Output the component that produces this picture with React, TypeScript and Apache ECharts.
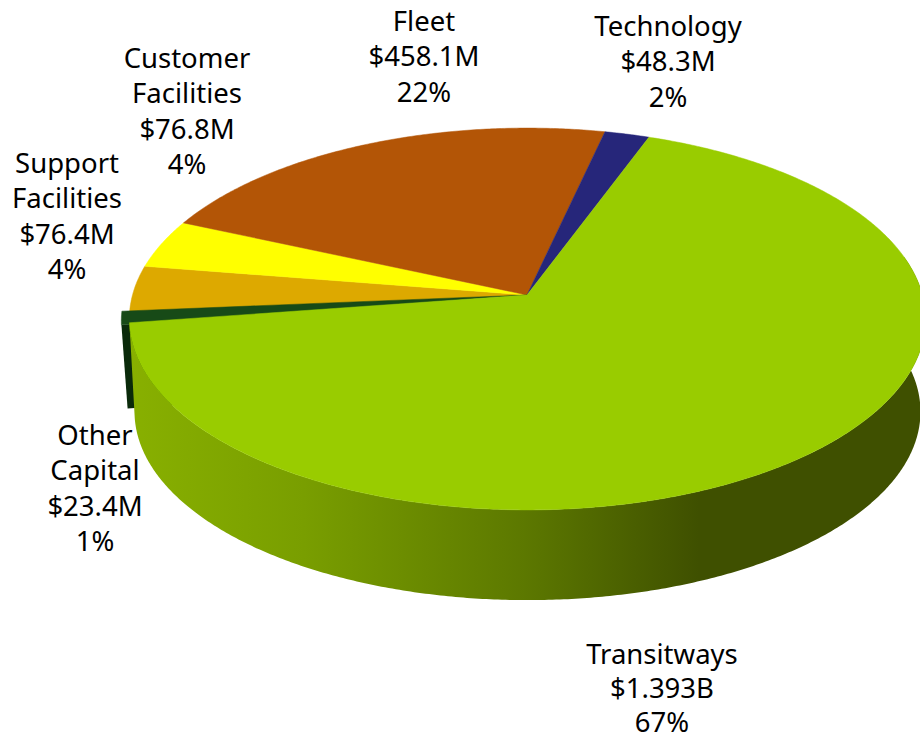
import React, { useEffect, useRef } from "react";
import * as echarts from "echarts";

const categories = ["Transitways", "Other\nCapital", "Support\nFacilities", "Customer\nFacilities", "Fleet", "Technology"];
const values = [1393, 23.4, 76.4, 76.8, 458.1, 48.3];
const amounts = ["$1.393B", "$23.4M", "$76.4M", "$76.8M", "$458.1M", "$48.3M"];
const percents = ["67%", "1%", "4%", "4%", "22%", "2%"];
const colors = ["#99CC00", "#174A17", "#DDA900", "#FFFF00", "#B35506", "#26267A"];
const labelAnchors = [[662, 653.5], [95, 434.5], [67, 162.5], [187, 57.5], [424, 20.5], [668, 25.5]];
const lineSteps = [34.2, 35.3, 35.3, 35.3, 35.3, 35.3];
// small angular corrections (degrees) at each slice's start, for the picture's non-true 3D projection
const startNudges = [0, 0, 0, 0, 1.5, 1];

const START_ANGLE = 20.1;
const FONT = "'Noto Sans', sans-serif";
const CX = 527.5, APEX_X = 527, APEX_Y = 295, RX = 395, RY = 187.9, K = 0.1257;
const DEPTH = 93, BOTTOM_SCALE = 0.987;

const total = values.reduce((a, b) => a + b, 0);
function angleAt(i: number) {
  let sum = 0;
  for (let j = 0; j < i; j++) sum += values[j];
  return START_ANGLE + (sum / total) * 360 + (startNudges[i] || 0);
}
function rim(deg: number, s = 1, dy = 0, ox = 0, oy = 0): number[] {
  const a = (deg * Math.PI) / 180;
  const u = Math.sin(a), v = Math.cos(a), w = 1 + K * v;
  return [CX + (RX * u * s) / w + ox, APEX_Y + dy - (RY * v * s) / w + oy];
}
function arc(a0: number, a1: number, s = 1, dy = 0, ox = 0, oy = 0) {
  const n = Math.max(2, Math.ceil(Math.abs(a1 - a0) * 2));
  const pts: number[][] = [];
  for (let i = 0; i <= n; i++) pts.push(rim(a0 + ((a1 - a0) * i) / n, s, dy, ox, oy));
  return pts;
}

function renderSlice(params: any, api: any) {
  const i = params.dataIndex;
  const a0 = angleAt(i);
  const a1 = i === values.length - 1 ? START_ANGLE + 360 : angleAt(i + 1);
  const isSliver = i === 1;
  const ox = isSliver ? -8 : 0;
  const oy = isSliver ? 2 : 0;
  const children: any[] = [];
  if (i === 0) {
    const wallA = 78;
    const wall = [...arc(wallA, a1), ...arc(a1, wallA, BOTTOM_SCALE, DEPTH)];
    children.push({
      type: "polygon",
      z2: 2,
      shape: { points: wall },
      style: {
        fill: new echarts.graphic.LinearGradient(130, 0, 920, 0, [
          { offset: 0, color: "#88B000" },
          { offset: 0.22, color: "#799E00" },
          { offset: 0.5, color: "#5C7800" },
          { offset: 0.72, color: "#3F5000" },
          { offset: 1, color: "#3F5000" },
        ], true),
      },
    });
  }
  if (isSliver) {
    const face = [
      rim(a0, 1, 0, ox, oy),
      [APEX_X + ox, APEX_Y + oy],
      [APEX_X + ox + 7, APEX_Y + 86],
      rim(a0, BOTTOM_SCALE, DEPTH, -7, -7),
    ];
    children.push({ type: "polygon", z2: 1, shape: { points: face }, style: { fill: "#0A2A0A" } });
  }
  // the slice beside the pulled-out sliver runs on under it, so no gap shows between them
  const faceStart = i === 2 ? a0 - 2 : a0;
  const top = [
    isSliver ? [APEX_X, APEX_Y] : [APEX_X + ox, APEX_Y + oy],
    ...arc(faceStart, a1, 1, 0, ox, oy),
  ];
  children.push({
    type: "polygon",
    z2: i === 0 ? 5 : isSliver ? 4 : 3,
    shape: { points: top },
    style: { fill: colors[i], stroke: colors[i], lineWidth: 0.5 },
  });
  const lines = [...categories[i].split("\n"), amounts[i], percents[i]];
  lines.forEach((line, n) => {
    children.push({
      type: "text",
      z2: 6,
      style: {
        text: line,
        x: labelAnchors[i][0],
        y: labelAnchors[i][1] + n * lineSteps[i],
        align: "center",
        verticalAlign: "middle",
        font: `27.5px ${FONT}`,
        lineHeight: 28,
        fill: "#000000",
      },
    });
  });
  return { type: "group", children };
}

export default function App() {
  const ref = useRef<HTMLDivElement>(null);
  useEffect(() => {
    document.body.style.margin = "0";
    const chart = echarts.init(ref.current!, undefined, { renderer: "svg" });
    chart.setOption({
      animation: false,
      backgroundColor: "#FFFFFF",
      series: [
        {
          type: "custom",
          coordinateSystem: "none",
          renderItem: renderSlice,
          data: values.map((v) => [v]),
          clip: false,
          silent: true,
        },
      ],
    });
    return () => chart.dispose();
  }, []);
  return <div ref={ref} style={{ width: 920, height: 741, overflow: "hidden" }} />;
}
